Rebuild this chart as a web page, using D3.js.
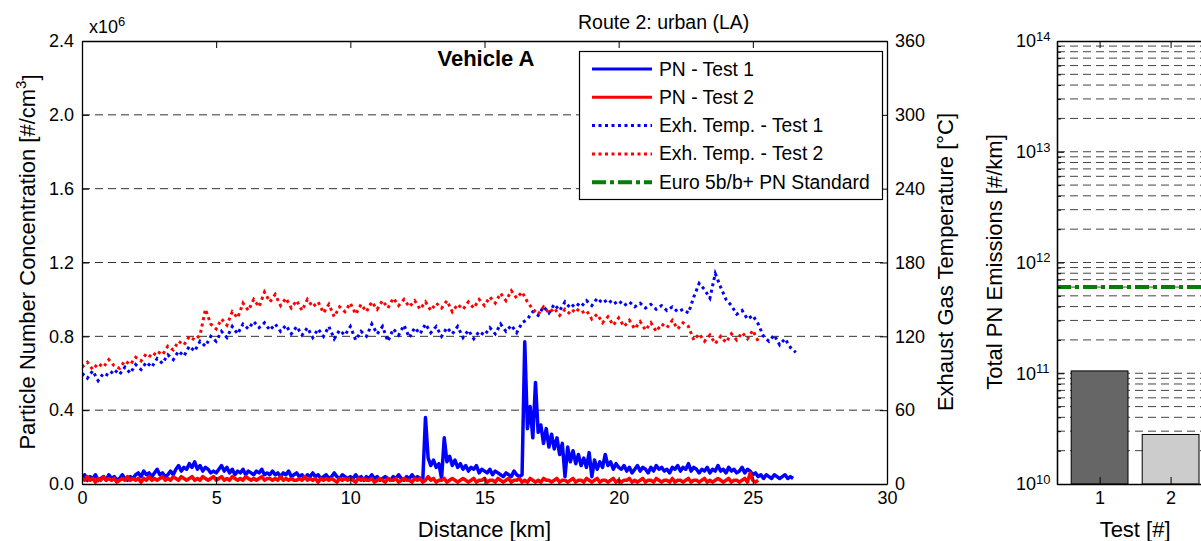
<!DOCTYPE html>
<html>
<head>
<meta charset="utf-8">
<script src="https://cdn.jsdelivr.net/npm/d3@7"></script>
<style>
  body { margin: 0; background: #fff; }
  svg { display: block; font-family: 'Liberation Sans', Arial, sans-serif; }
  .axis .domain { stroke: #000; stroke-width: 1.3; }
  .axis .tick line { stroke: #000; stroke-width: 1; }
  .axis text { fill: #000; font-size: 18px; font-family: 'Liberation Sans', Arial, sans-serif; }
</style>
</head>
<body>
<div id="chart"></div>
<script>
// sampling steps along the route [km]
const pnStep = 0.1
const tempStep = 0.2

// particle number concentration, x10^6 #/cm3, one value every 0.1 km
const pnTest1 = [
  // 0 - 1.9 km
  0.03, 0.05, 0.02, 0.04, 0.03, 0.05, 0.02, 0.03, 0.04, 0.02, 0.05, 0.03, 0.04, 0.02, 0.03, 0.05, 0.03, 0.02, 0.04, 0.03,
  // 2.0 - 3.4
  0.05, 0.06, 0.04, 0.07, 0.05, 0.06, 0.04, 0.06, 0.08, 0.05, 0.06, 0.04, 0.05, 0.07, 0.05,
  // 3.5 - 4.9
  0.08, 0.10, 0.07, 0.09, 0.08, 0.11, 0.09, 0.12, 0.08, 0.10, 0.07, 0.09, 0.08, 0.06, 0.07,
  // 5.0 - 6.9
  0.06, 0.08, 0.10, 0.07, 0.09, 0.06, 0.08, 0.05, 0.07, 0.06, 0.08, 0.05, 0.07, 0.06, 0.05, 0.07, 0.06, 0.08, 0.05, 0.06,
  // 7.0 - 9.9
  0.05, 0.07, 0.05, 0.06, 0.04, 0.06, 0.05, 0.07, 0.04, 0.05, 0.06, 0.04, 0.05, 0.03, 0.05, 0.04, 0.06, 0.04, 0.05, 0.03,
  0.04, 0.05, 0.03, 0.04, 0.06, 0.04, 0.03, 0.05, 0.04, 0.03,
  // 10.0 - 12.7
  0.04, 0.03, 0.05, 0.03, 0.04, 0.02, 0.04, 0.03, 0.05, 0.03, 0.04, 0.02, 0.03, 0.04, 0.03, 0.02, 0.04, 0.03, 0.05, 0.03,
  0.02, 0.04, 0.03, 0.05, 0.03, 0.04, 0.03, 0.02,
  // 12.8 - 14.0
  0.36, 0.14, 0.10, 0.13, 0.09, 0.11, 0.03, 0.25, 0.12, 0.15, 0.10, 0.13, 0.09,
  // 14.1 - 16.4
  0.11, 0.08, 0.10, 0.07, 0.09, 0.08, 0.10, 0.06, 0.08, 0.07, 0.06, 0.08, 0.05, 0.07, 0.06, 0.05, 0.04, 0.06, 0.05, 0.04,
  0.07, 0.05, 0.04, 0.05,
  // 16.5 - 20.0
  0.77, 0.30, 0.42, 0.25, 0.55, 0.28, 0.32, 0.22, 0.30, 0.20, 0.27, 0.19, 0.25, 0.16, 0.22, 0.04, 0.20, 0.12, 0.18, 0.11,
  0.16, 0.10, 0.14, 0.09, 0.17, 0.04, 0.13, 0.08, 0.12, 0.09, 0.16, 0.10, 0.12, 0.08, 0.11, 0.09,
  // 20.1 - 24.9
  0.08, 0.10, 0.07, 0.09, 0.06, 0.08, 0.10, 0.07, 0.09, 0.08, 0.06, 0.09, 0.07, 0.10, 0.08, 0.09, 0.07, 0.08, 0.06, 0.09,
  0.08, 0.10, 0.07, 0.09, 0.08, 0.11, 0.07, 0.09, 0.08, 0.06, 0.08, 0.07, 0.09, 0.06, 0.08, 0.07, 0.10, 0.07, 0.08, 0.06,
  0.09, 0.07, 0.08, 0.06, 0.07, 0.09, 0.06, 0.08, 0.07,
  // 25.0 - 26.5
  0.05, 0.06, 0.04, 0.05, 0.03, 0.05, 0.04, 0.03, 0.05, 0.04, 0.03, 0.04, 0.05, 0.03, 0.04, 0.03
]

const pnTest2 = [
  0.03, 0.02, 0.04, 0.02, 0.03, 0.01, 0.03, 0.02, 0.04, 0.02,
  0.03, 0.02, 0.03, 0.01, 0.02, 0.03, 0.02, 0.04, 0.02, 0.03,
  0.02, 0.03, 0.01, 0.03, 0.02, 0.04, 0.02, 0.03, 0.02, 0.03,
  0.04, 0.02, 0.03, 0.02, 0.04, 0.03, 0.02, 0.04, 0.03, 0.02,
  0.03, 0.04, 0.02, 0.03, 0.02, 0.04, 0.03, 0.02, 0.03, 0.04,
  0.02, 0.03, 0.04, 0.02, 0.03, 0.02, 0.04, 0.03, 0.02, 0.03,
  0.02, 0.04, 0.03, 0.02, 0.03, 0.02, 0.03, 0.04, 0.02, 0.03,
  0.03, 0.02, 0.03, 0.02, 0.04, 0.02, 0.03, 0.02, 0.03, 0.02,
  0.02, 0.03, 0.02, 0.04, 0.02, 0.03, 0.02, 0.03, 0.01, 0.03,
  0.02, 0.03, 0.02, 0.03, 0.02, 0.01, 0.03, 0.02, 0.03, 0.02,
  0.03, 0.02, 0.01, 0.03, 0.02, 0.03, 0.02, 0.02, 0.03, 0.01,
  0.02, 0.03, 0.02, 0.01, 0.03, 0.02, 0.02, 0.03, 0.01, 0.02,
  0.03, 0.02, 0.02, 0.01, 0.03, 0.02, 0.03, 0.01, 0.02, 0.04,
  0.02, 0.03, 0.01, 0.02, 0.02, 0.03, 0.01, 0.02, 0.03, 0.02,
  0.01, 0.02, 0.03, 0.02, 0.01, 0.02, 0.03, 0.01, 0.02, 0.02,
  0.03, 0.01, 0.02, 0.02, 0.01, 0.03, 0.02, 0.01, 0.02, 0.03,
  0.01, 0.02, 0.02, 0.03, 0.01, 0.02, 0.01, 0.03, 0.02, 0.01,
  0.02, 0.01, 0.03, 0.02, 0.02, 0.01, 0.02, 0.03, 0.01, 0.02,
  0.02, 0.01, 0.02, 0.03, 0.01, 0.02, 0.02, 0.01, 0.03, 0.02,
  0.01, 0.02, 0.03, 0.01, 0.02, 0.02, 0.01, 0.02, 0.03, 0.01,
  0.02, 0.01, 0.02, 0.02, 0.03, 0.01, 0.02, 0.01, 0.02, 0.03,
  0.01, 0.02, 0.02, 0.01, 0.03, 0.02, 0.01, 0.02, 0.02, 0.01,
  0.03, 0.01, 0.02, 0.02, 0.01, 0.02, 0.03, 0.01, 0.02, 0.02,
  0.01, 0.02, 0.03, 0.01, 0.02, 0.01, 0.02, 0.03, 0.02, 0.01,
  0.02, 0.03, 0.01, 0.02, 0.02, 0.01, 0.02, 0.03, 0.01, 0.06,
  0.02, 0.01, 0.02
]

// exhaust gas temperature, degC, one value every 0.2 km
const tempTest1 = [
  90, 86, 92, 84, 90, 88, 93, 89, 95, 90,
  97, 93, 99, 95, 102, 98, 105, 101, 108, 104,
  112, 108, 116, 112, 120, 116, 124, 119, 128, 122,
  130, 126, 132, 127, 131, 125, 130, 124, 129, 122,
  128, 121, 127, 119, 126, 120, 128, 118, 125, 121,
  128, 117, 124, 120, 130, 122, 128, 116, 126, 121,
  129, 119, 127, 122, 130, 123, 128, 120, 127, 122,
  128, 119, 125, 118, 124, 121, 127, 122, 130, 124,
  129, 123, 131, 134, 140, 137, 144, 139, 146, 141,
  148, 143, 147, 144, 149, 145, 151, 147, 150, 146,
  149, 145, 148, 144, 147, 143, 146, 142, 145, 141,
  144, 140, 142, 139, 152, 163, 158, 151, 171, 160,
  150, 145, 138, 141, 134, 137, 130, 120, 116, 121,
  113, 118, 111, 107
]

const tempTest2 = [
  95, 99, 93, 98, 95, 101, 96, 94, 100, 97,
  103, 100, 106, 103, 108, 105, 112, 109, 116, 113,
  120, 117, 121, 142, 130, 126, 134, 129, 140, 135,
  147, 141, 150, 144, 156, 148, 154, 145, 151, 143,
  149, 141, 150, 144, 148, 139, 146, 136, 144, 140,
  147, 138, 146, 140, 148, 142, 149, 143, 151, 145,
  150, 144, 149, 142, 148, 141, 147, 143, 149, 140,
  146, 142, 148, 143, 150, 145, 152, 147, 155, 149,
  157, 151, 156, 148, 142, 138, 144, 139, 143, 137,
  142, 138, 143, 139, 141, 134, 138, 131, 136, 129,
  135, 128, 133, 126, 132, 125, 131, 124, 130, 127,
  133, 126, 131, 128, 117, 122, 116, 121, 114, 120,
  115, 122, 117, 123, 118, 125, 116
]

// total PN emissions per test [#/km]
const testIds = [1, 2]
const totalPn = [1.05e11, 2.8e10]
const euroLimit = 6e11

const distanceTicks = [0, 5, 10, 15, 20, 25, 30]
const pnTicks = [0, 0.4, 0.8, 1.2, 1.6, 2.0, 2.4]
const tempTicks = [0, 60, 120, 180, 240, 300, 360]
const logMajorTicks = [1e10, 1e11, 1e12, 1e13, 1e14]

const legendItems = [
  { label: 'PN - Test 1', color: '#0000ff', dash: null, width: 3 },
  { label: 'PN - Test 2', color: '#ff0000', dash: null, width: 3 },
  { label: 'Exh. Temp. - Test 1', color: '#0000ff', dash: '3,3.5', width: 3 },
  { label: 'Exh. Temp. - Test 2', color: '#ff0000', dash: '3,3.5', width: 3 },
  { label: 'Euro 5b/b+ PN Standard', color: '#008000', dash: '14,4,4,4', width: 4 }
]
const barColors = ['#666666', '#cccccc']

const svg = d3
  .select('#chart')
  .append('svg')
  .attr('width', 1201)
  .attr('height', 541)

// ---- left panel ----
const plotLeft = 82
const plotRight = 887
const plotTop = 41
const plotBottom = 484

const xPositionScale = d3.scaleLinear().domain([0, 30]).range([plotLeft, plotRight])
const pnScale = d3.scaleLinear().domain([0, 2.4]).range([plotBottom, plotTop])
const tempScale = d3.scaleLinear().domain([0, 360]).range([plotBottom, plotTop])

svg
  .append('clipPath')
  .attr('id', 'clip-left')
  .append('rect')
  .attr('x', plotLeft)
  .attr('y', plotTop)
  .attr('width', plotRight - plotLeft)
  .attr('height', plotBottom - plotTop)

// dashed grid
svg
  .append('g')
  .selectAll('line')
  .data(pnTicks.slice(1, -1))
  .enter()
  .append('line')
  .attr('x1', plotLeft)
  .attr('x2', plotRight)
  .attr('y1', d => pnScale(d))
  .attr('y2', d => pnScale(d))
  .attr('stroke', '#333')
  .attr('stroke-width', 1)
  .attr('stroke-dasharray', '8,5')

const plot = svg.append('g').attr('clip-path', 'url(#clip-left)')

const pnLine = d3
  .line()
  .x((d, i) => xPositionScale(i * pnStep))
  .y(d => pnScale(d))

const tempLine = d3
  .line()
  .x((d, i) => xPositionScale(i * tempStep))
  .y(d => tempScale(d))

plot
  .append('path')
  .datum(tempTest1)
  .attr('d', tempLine)
  .attr('fill', 'none')
  .attr('stroke', '#0000ff')
  .attr('stroke-width', 3)
  .attr('stroke-dasharray', '3,3.5')

plot
  .append('path')
  .datum(tempTest2)
  .attr('d', tempLine)
  .attr('fill', 'none')
  .attr('stroke', '#ff0000')
  .attr('stroke-width', 3)
  .attr('stroke-dasharray', '3,3.5')

plot
  .append('path')
  .datum(pnTest1)
  .attr('d', pnLine)
  .attr('fill', 'none')
  .attr('stroke', '#0000ff')
  .attr('stroke-width', 3.5)
  .attr('stroke-linejoin', 'round')

plot
  .append('path')
  .datum(pnTest2)
  .attr('d', pnLine)
  .attr('fill', 'none')
  .attr('stroke', '#ff0000')
  .attr('stroke-width', 3.5)
  .attr('stroke-linejoin', 'round')

// axes
const xAxis = d3
  .axisBottom(xPositionScale)
  .tickValues(distanceTicks)
  .tickSizeInner(-7)
  .tickSizeOuter(0)
  .tickPadding(7)

svg
  .append('g')
  .attr('class', 'axis x-axis')
  .attr('transform', 'translate(0,' + plotBottom + ')')
  .call(xAxis)

svg
  .append('g')
  .attr('class', 'axis')
  .attr('transform', 'translate(0,' + plotTop + ')')
  .call(
    d3
      .axisTop(xPositionScale)
      .tickValues(distanceTicks)
      .tickSizeInner(-7)
      .tickSizeOuter(0)
      .tickFormat('')
  )

svg
  .append('g')
  .attr('class', 'axis')
  .attr('transform', 'translate(' + plotLeft + ',0)')
  .call(
    d3
      .axisLeft(pnScale)
      .tickValues(pnTicks)
      .tickFormat(d3.format('.1f'))
      .tickSizeInner(-7)
      .tickSizeOuter(0)
      .tickPadding(8)
  )

svg
  .append('g')
  .attr('class', 'axis')
  .attr('transform', 'translate(' + plotRight + ',0)')
  .call(
    d3
      .axisRight(tempScale)
      .tickValues(tempTicks)
      .tickSizeInner(-7)
      .tickSizeOuter(0)
      .tickPadding(8)
  )

// axis labels and titles
svg
  .append('text')
  .attr('x', xPositionScale(15))
  .attr('y', 537)
  .attr('text-anchor', 'middle')
  .attr('font-size', 22)
  .text('Distance [km]')

const yLabel = svg
  .append('text')
  .attr('transform', 'translate(27,262) rotate(-90)')
  .attr('text-anchor', 'middle')
  .attr('dominant-baseline', 'central')
  .attr('font-size', 22)
yLabel.append('tspan').text('Particle Number Concentration [#/cm')
yLabel.append('tspan').attr('dy', '-0.45em').attr('font-size', 15).text('3')
yLabel.append('tspan').attr('dy', '0.45em').text(']')

svg
  .append('text')
  .attr('transform', 'translate(945,262) rotate(-90)')
  .attr('text-anchor', 'middle')
  .attr('dominant-baseline', 'central')
  .attr('font-size', 22)
  .text('Exhaust Gas Temperature [°C]')

const scaleNote = svg
  .append('text')
  .attr('x', 89)
  .attr('y', 33)
  .attr('font-size', 18)
scaleNote.append('tspan').text('x10')
scaleNote.append('tspan').attr('dy', '-0.55em').attr('font-size', 13).text('6')

svg
  .append('text')
  .attr('x', 578)
  .attr('y', 29)
  .attr('font-size', 19.5)
  .text('Route 2: urban (LA)')

svg
  .append('text')
  .attr('x', 486)
  .attr('y', 66)
  .attr('text-anchor', 'middle')
  .attr('font-size', 22)
  .attr('font-weight', 'bold')
  .text('Vehicle A')

// legend
const legend = svg.append('g')
legend
  .append('rect')
  .attr('x', 579.5)
  .attr('y', 51.5)
  .attr('width', 303)
  .attr('height', 148)
  .attr('fill', '#fff')
  .attr('stroke', '#000')
  .attr('stroke-width', 1.2)

const legendRows = legend
  .selectAll('.legend-row')
  .data(legendItems)
  .enter()
  .append('g')
  .attr('class', 'legend-row')
  .attr('transform', (d, i) => 'translate(0,' + (69 + i * 28.3) + ')')

legendRows
  .append('line')
  .attr('x1', 592)
  .attr('x2', 652)
  .attr('stroke', d => d.color)
  .attr('stroke-width', d => d.width)
  .attr('stroke-dasharray', d => d.dash)

legendRows
  .append('text')
  .attr('x', 659)
  .attr('dominant-baseline', 'central')
  .attr('font-size', 19.3)
  .text(d => d.label)

// ---- right panel ----
const barLeft = 1057
const barScale = d3.scaleLinear().domain([0.4, 3.6]).range([barLeft, barLeft + 3.2 * 71])
const logScale = d3.scaleLog().domain([1e10, 1e14]).range([plotBottom, plotTop])

const minorTicks = []
logMajorTicks.slice(0, -1).forEach(m => {
  for (let k = 2; k <= 9; k++) minorTicks.push(m * k)
})
const gridValues = logMajorTicks.slice(1, -1).concat(minorTicks)

svg
  .append('g')
  .selectAll('line')
  .data(gridValues)
  .enter()
  .append('line')
  .attr('x1', barLeft)
  .attr('x2', 1201)
  .attr('y1', d => logScale(d))
  .attr('y2', d => logScale(d))
  .attr('stroke', '#444')
  .attr('stroke-width', 1)
  .attr('stroke-dasharray', '8,5')

svg
  .append('g')
  .selectAll('rect')
  .data(totalPn)
  .enter()
  .append('rect')
  .attr('x', (d, i) => barScale(testIds[i] - 0.4))
  .attr('width', barScale(0.8) - barScale(0))
  .attr('y', d => logScale(d))
  .attr('height', d => plotBottom - logScale(d))
  .attr('fill', (d, i) => barColors[i])
  .attr('stroke', '#000')
  .attr('stroke-width', 1)

svg
  .append('line')
  .attr('x1', barLeft)
  .attr('x2', 1201)
  .attr('y1', logScale(euroLimit))
  .attr('y2', logScale(euroLimit))
  .attr('stroke', '#008000')
  .attr('stroke-width', 4)
  .attr('stroke-dasharray', '14,4,4,4')

svg
  .append('g')
  .attr('class', 'axis')
  .attr('transform', 'translate(' + barLeft + ',0)')
  .call(
    d3
      .axisLeft(logScale)
      .tickValues(minorTicks)
      .tickSizeInner(-4)
      .tickSizeOuter(0)
      .tickFormat('')
  )

const logAxis = svg
  .append('g')
  .attr('class', 'axis')
  .attr('transform', 'translate(' + barLeft + ',0)')
  .call(
    d3
      .axisLeft(logScale)
      .tickValues(logMajorTicks)
      .tickSizeInner(-7)
      .tickSizeOuter(0)
      .tickPadding(19)
      .tickFormat('')
  )

logAxis
  .selectAll('.tick text')
  .attr('text-anchor', 'start')
  .attr('x', -41)
  .each(function (d) {
    const t = d3.select(this)
    t.append('tspan').text('10')
    t.append('tspan')
      .attr('dy', '-0.5em')
      .attr('font-size', 13)
      .text(Math.round(Math.log10(d)))
  })

svg
  .append('g')
  .attr('class', 'axis')
  .attr('transform', 'translate(0,' + plotBottom + ')')
  .call(
    d3
      .axisBottom(barScale)
      .tickValues(testIds)
      .tickFormat(d3.format('d'))
      .tickSizeInner(-7)
      .tickSizeOuter(0)
      .tickPadding(7)
  )

svg
  .append('g')
  .attr('class', 'axis')
  .attr('transform', 'translate(0,' + plotTop + ')')
  .call(
    d3
      .axisTop(barScale)
      .tickValues(testIds)
      .tickSizeInner(-7)
      .tickSizeOuter(0)
      .tickFormat('')
  )

svg
  .append('text')
  .attr('x', barScale(1.5))
  .attr('y', 537)
  .attr('text-anchor', 'middle')
  .attr('font-size', 22)
  .text('Test [#]')

svg
  .append('text')
  .attr('transform', 'translate(994,262) rotate(-90)')
  .attr('text-anchor', 'middle')
  .attr('dominant-baseline', 'central')
  .attr('font-size', 22)
  .text('Total PN Emissions [#/km]')
</script>
</body>
</html>
